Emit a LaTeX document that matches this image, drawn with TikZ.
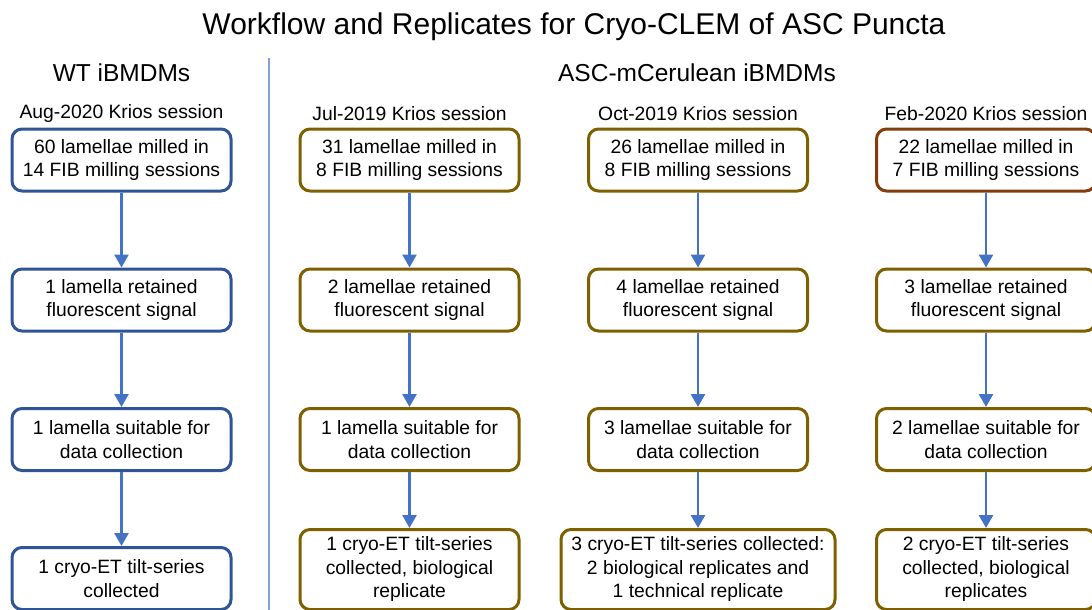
\documentclass[tikz,border=0pt]{standalone}
\usepackage{fontspec}
\setmainfont{Liberation Sans}
\usetikzlibrary{arrows.meta}
\definecolor{wtblue}{HTML}{2F5597}
\definecolor{olive}{HTML}{7F6000}
\definecolor{rust}{HTML}{843C0C}
\definecolor{arrblue}{HTML}{4472C4}
\definecolor{divblue}{HTML}{7FA3E0}
\tikzset{
  box/.style={draw=#1, line width=3pt, rounded corners=10pt, fill=white,
    minimum width=219pt, minimum height=62pt, inner sep=0pt, align=center,
    font=\fontsize{19.3}{23.5}\selectfont},
  tallbox/.style={box=#1, minimum height=80pt},
  flow/.style={arrblue, line width=2.6pt, -{Triangle[length=13pt,width=14pt]}},
  lbl/.style={font=\fontsize{19.3}{23.5}\selectfont, inner sep=0pt},
  hdr/.style={font=\fontsize{24.5}{28}\selectfont, inner sep=0pt},
}
\begin{document}
\begin{tikzpicture}[x=1pt,y=-1pt]
\useasboundingbox (0,0) rectangle (1092,610);
\node[inner sep=0pt, font=\fontsize{30}{34}\selectfont] (title) at (574,27) {Workflow and Replicates for Cryo-CLEM of ASC Puncta};
\node[hdr] (hwt) at (121.5,73) {WT iBMDMs};
\node[hdr] (hasc) at (697,73) {ASC-mCerulean iBMDMs};
\coordinate (dtop) at (269,58);
\coordinate (dbot) at (269,612);
\draw[divblue, line width=1.8pt] (dtop) -- (dbot);

% column 1
\node[lbl] (s1) at (121.5,114) {Aug-2020 Krios session};
\node[box=wtblue] (a1) at (121.5,160) {60 lamellae milled in\\14 FIB milling sessions};
\node[box=wtblue] (a2) at (121.5,300) {1 lamella retained\\fluorescent signal};
\node[box=wtblue] (a3) at (121.5,439.5) {1 lamella suitable for\\data collection};
\node[box=wtblue] (a4) at (121.5,578.5) {1 cryo-ET tilt-series\\collected};

% column 2
\node[lbl] (s2) at (409.5,114) {Jul-2019 Krios session};
\node[box=olive] (b1) at (409.5,160) {31 lamellae milled in\\8 FIB milling sessions};
\node[box=olive] (b2) at (409.5,300) {2 lamellae retained\\fluorescent signal};
\node[box=olive] (b3) at (409.5,439.5) {1 lamella suitable for\\data collection};
\node[tallbox=olive] (b4) at (409.5,569.5) {1 cryo-ET tilt-series\\collected, biological\\replicate};

% column 3
\node[lbl] (s3) at (698,114) {Oct-2019 Krios session};
\node[box=olive] (c1) at (698,160) {26 lamellae milled in\\8 FIB milling sessions};
\node[box=olive] (c2) at (698,300) {4 lamellae retained\\fluorescent signal};
\node[box=olive] (c3) at (698,439.5) {3 lamellae suitable for\\data collection};
\node[tallbox=olive, minimum width=274pt] (c4) at (698,569.5) {3 cryo-ET tilt-series collected:\\2 biological replicates and\\1 technical replicate};

% column 4
\node[lbl] (s4) at (986,114) {Feb-2020 Krios session};
\node[box=rust] (d1) at (986,160) {22 lamellae milled in\\7 FIB milling sessions};
\node[box=olive] (d2) at (986,300) {3 lamellae retained\\fluorescent signal};
\node[box=olive] (d3) at (986,439.5) {2 lamellae suitable for\\data collection};
\node[tallbox=olive] (d4) at (986,569.5) {2 cryo-ET tilt-series\\collected, biological\\replicates};

\foreach \c in {a,b,c,d}{
  \draw[flow] (\c1.south) -- (\c2.north);
  \draw[flow] (\c2.south) -- (\c3.north);
  \draw[flow] (\c3.south) -- (\c4.north);
}
\end{tikzpicture}
\end{document}
